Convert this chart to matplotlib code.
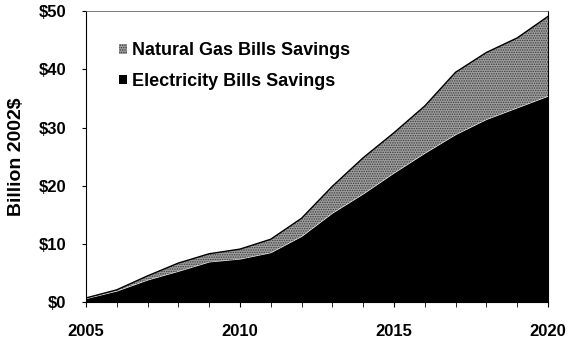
import matplotlib
matplotlib.use("Agg")
from matplotlib import pyplot as plt
from matplotlib.patches import Patch
import numpy as np

plt.rcParams['font.family'] = ['Liberation Sans', 'DejaVu Sans']
plt.rcParams['font.weight'] = 'bold'
plt.rcParams['hatch.linewidth'] = 0.7

years = np.arange(2005, 2021)
total = [0.7, 2.1, 4.5, 6.7, 8.3, 9.1, 10.8, 14.4, 19.9, 24.8, 29.1, 33.7, 39.5, 42.9, 45.4, 49.1]
electricity = [0.6, 1.9, 3.8, 5.3, 6.9, 7.4, 8.5, 11.3, 15.3, 18.6, 22.2, 25.6, 28.8, 31.4, 33.4, 35.4]
gas = [t - e for t, e in zip(total, electricity)]

gas_face = '#9e9e9e'
gas_dots = '#3c3c3c'

fig = plt.figure(figsize=(5.69, 3.39), dpi=100)
ax = fig.add_axes([0.151, 0.109, 0.812, 0.858])

top = np.array(electricity) + np.array(gas)
ax.fill_between(years, 0, electricity, color='black', linewidth=0)
ax.fill_between(years, electricity, top, facecolor=gas_face, hatch='.......',
                edgecolor=gas_dots, linewidth=0)
ax.plot(years, top, color='black', linewidth=1)

ax.set_xlim(2005, 2020)
ax.set_ylim(0, 50)
ax.set_xticks([2005, 2010, 2015, 2020])
ax.set_xticks(years, minor=True)
ax.set_yticks(range(0, 51, 10))
ax.set_yticklabels(['$%d' % v for v in range(0, 51, 10)])
ax.tick_params(axis='both', labelsize=12, width=0.8)
ax.tick_params(axis='x', which='both', length=3.5, pad=12)
ax.tick_params(axis='y', length=3, pad=11)
ax.set_ylabel('Billion 2002$', fontsize=14, fontweight='bold')
ax.yaxis.set_label_coords(-0.132, 0.5)
for s in ax.spines.values():
    s.set_linewidth(0.8)
ax.spines['top'].set_color('#666666')
ax.spines['top'].set_linewidth(0.6)

handles = [Patch(facecolor=gas_face, hatch='.......', edgecolor=gas_dots, linewidth=0,
                 label='Natural Gas Bills Savings'),
           Patch(facecolor='black', label='Electricity Bills Savings')]
ax.legend(handles=handles, loc='upper left', bbox_to_anchor=(0.072, 0.893), frameon=False,
          fontsize=13, borderpad=0, borderaxespad=0, handlelength=0.45, handleheight=0.45,
          handletextpad=0.25, labelspacing=0.75)

fig.savefig('out.png', dpi=100)
